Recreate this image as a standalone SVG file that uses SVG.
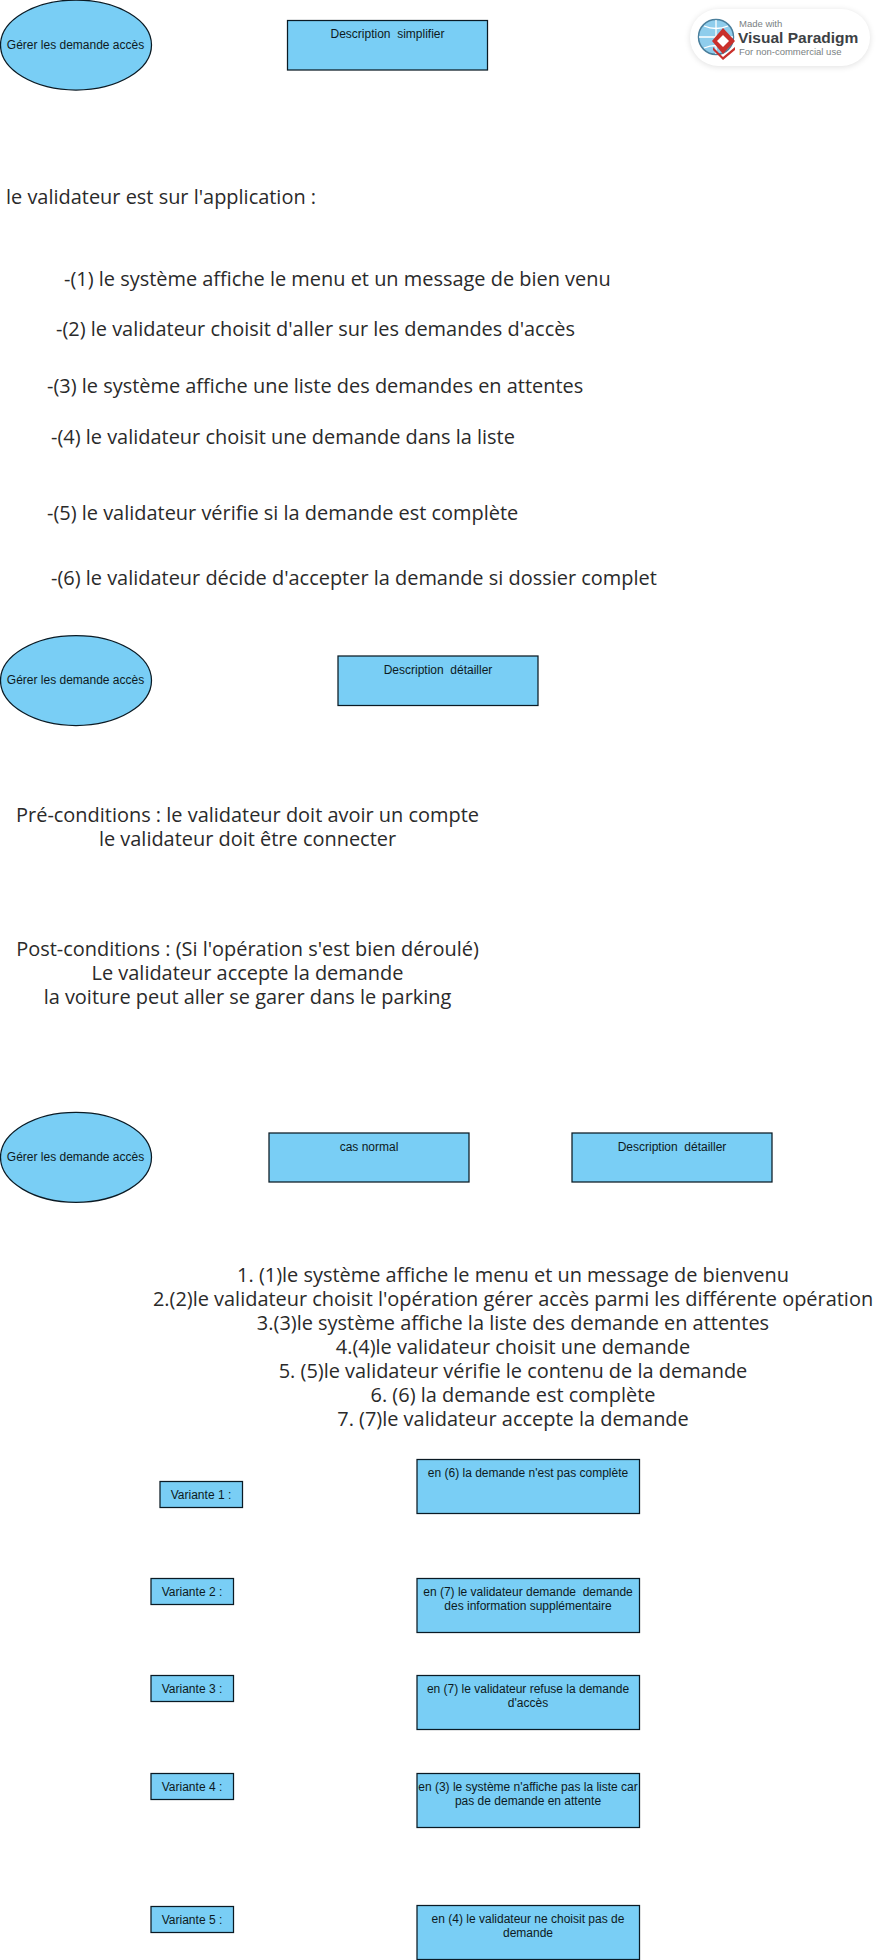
<svg xmlns="http://www.w3.org/2000/svg" width="878" height="1960" viewBox="0 0 878 1960">
<style>
.n{fill:#79cef5;stroke:#0a1a24;stroke-width:1.25}
.s{font-family:"Liberation Sans",Arial,sans-serif;font-size:12px;fill:#0d1a22;text-anchor:middle;white-space:pre}
.b{font-family:"Open Sans","Noto Sans",sans-serif;font-size:19.95px;fill:#2a2a2a}
.c{text-anchor:middle}
.vp{font-family:"Liberation Sans",Arial,sans-serif;fill:#7a7f83;font-size:9.5px}
</style>
<defs><filter id="sh" x="-10%" y="-20%" width="120%" height="140%"><feGaussianBlur stdDeviation="3"/></filter></defs>
<rect width="878" height="1960" fill="#fff"/>
<g id="connectors"/>
<g id="logo">
<rect x="690" y="10" width="180" height="57" rx="28.5" fill="#000" opacity=".12" filter="url(#sh)"/>
<rect x="690" y="9" width="180" height="57" rx="28.5" fill="#fff"/>
<circle cx="716" cy="37" r="17.5" fill="#8fcdec" stroke="#4b7f9c" stroke-width="1.5"/>
<path d="M699 37H733M716 20V54M704 26Q716 31 728 26M704 48Q716 43 728 48" fill="none" stroke="#fff" stroke-width="1.3"/>
<path d="M713 47L723 57L735 47L735 50L723 60L713 50Z" fill="#c9302c"/>
<path d="M723 28L735 41L723 54L712 41Z" fill="#c9302c"/>
<path d="M723 35L729 41L723 47L717 41Z" fill="#fff"/>
<text class="vp" x="739" y="27">Made with</text>
<text x="738" y="42.5" font-family="'Liberation Sans',Arial,sans-serif" font-weight="700" font-size="15.5" fill="#3c4144">Visual Paradigm</text>
<text class="vp" x="739" y="54.5">For non-commercial use</text>
</g>
<g id="uc1"><ellipse class="n" cx="76" cy="45" rx="75.5" ry="45"/><text class="s" x="75.5" y="49">Gérer les demande accès</text></g>
<g id="desc1"><rect class="n" x="287.5" y="20.5" width="200" height="49.5"/><text class="s" x="387.5" y="38">Description  simplifier</text></g>
<g id="simple">
<text class="b" x="6" y="204">le validateur est sur l'application :</text>
<text class="b" x="64" y="286">-(1) le système affiche le menu et un message de bien venu</text>
<text class="b" x="56" y="336">-(2) le validateur choisit d'aller sur les demandes d'accès</text>
<text class="b" x="47" y="393">-(3) le système affiche une liste des demandes en attentes</text>
<text class="b" x="51" y="444">-(4) le validateur choisit une demande dans la liste</text>
<text class="b" x="47" y="520">-(5) le validateur vérifie si la demande est complète</text>
<text class="b" x="51" y="585">-(6) le validateur décide d'accepter la demande si dossier complet</text>
</g>
<g id="uc2"><ellipse class="n" cx="76" cy="680.5" rx="75.5" ry="45"/><text class="s" x="75.5" y="684">Gérer les demande accès</text></g>
<g id="desc2"><rect class="n" x="338" y="656" width="200" height="49.5"/><text class="s" x="438" y="674">Description  détailler</text></g>
<g id="cond">
<text class="b c" x="247.5" y="822">Pré-conditions : le validateur doit avoir un compte</text>
<text class="b c" x="247.5" y="846">le validateur doit être connecter</text>
<text class="b c" x="247.5" y="956">Post-conditions : (Si l'opération s'est bien déroulé)</text>
<text class="b c" x="247.5" y="980">Le validateur accepte la demande</text>
<text class="b c" x="247.5" y="1004">la voiture peut aller se garer dans le parking</text>
</g>
<g id="uc3"><ellipse class="n" cx="76" cy="1157.3" rx="75.5" ry="45"/><text class="s" x="75.5" y="1161">Gérer les demande accès</text></g>
<g id="cas"><rect class="n" x="269" y="1133" width="200" height="49"/><text class="s" x="369" y="1151">cas normal</text></g>
<g id="desc3"><rect class="n" x="572" y="1133" width="200" height="49"/><text class="s" x="672" y="1151">Description  détailler</text></g>
<g id="normal">
<text class="b c" x="513" y="1282">1. (1)le système affiche le menu et un message de bienvenu</text>
<text class="b c" x="513" y="1306">2.(2)le validateur choisit l'opération gérer accès parmi les différente opération</text>
<text class="b c" x="513" y="1330">3.(3)le système affiche la liste des demande en attentes</text>
<text class="b c" x="513" y="1354">4.(4)le validateur choisit une demande</text>
<text class="b c" x="513" y="1378">5. (5)le validateur vérifie le contenu de la demande</text>
<text class="b c" x="513" y="1402">6. (6) la demande est complète</text>
<text class="b c" x="513" y="1426">7. (7)le validateur accepte la demande</text>
</g>
<g id="v1"><rect class="n" x="160" y="1481.5" width="82.5" height="26"/><text class="s" x="201" y="1499">Variante 1 :</text></g>
<g id="t1"><rect class="n" x="417" y="1459.5" width="222.5" height="54"/><text class="s" x="528" y="1477">en (6) la demande n'est pas complète</text></g>
<g id="v2"><rect class="n" x="151" y="1578.5" width="82.5" height="26"/><text class="s" x="192" y="1596">Variante 2 :</text></g>
<g id="t2"><rect class="n" x="417" y="1578.5" width="222.5" height="54"/><text class="s" x="528" y="1596">en (7) le validateur demande  demande</text><text class="s" x="528" y="1610">des information supplémentaire</text></g>
<g id="v3"><rect class="n" x="151" y="1675.5" width="82.5" height="26"/><text class="s" x="192" y="1693">Variante 3 :</text></g>
<g id="t3"><rect class="n" x="417" y="1675.5" width="222.5" height="54"/><text class="s" x="528" y="1693">en (7) le validateur refuse la demande</text><text class="s" x="528" y="1707">d'accès</text></g>
<g id="v4"><rect class="n" x="151" y="1773.5" width="82.5" height="26"/><text class="s" x="192" y="1791">Variante 4 :</text></g>
<g id="t4"><rect class="n" x="417" y="1773.5" width="222.5" height="54"/><text class="s" x="528" y="1791">en (3) le système n'affiche pas la liste car</text><text class="s" x="528" y="1805">pas de demande en attente</text></g>
<g id="v5"><rect class="n" x="151" y="1906.5" width="82.5" height="26"/><text class="s" x="192" y="1924">Variante 5 :</text></g>
<g id="t5"><rect class="n" x="417" y="1905.5" width="222.5" height="54"/><text class="s" x="528" y="1923">en (4) le validateur ne choisit pas de</text><text class="s" x="528" y="1937">demande</text></g>
</svg>
